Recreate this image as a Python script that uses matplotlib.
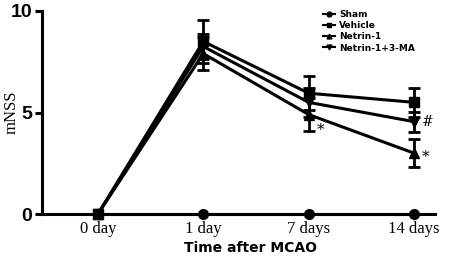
import matplotlib
matplotlib.use('Agg')
import matplotlib.pyplot as plt
from matplotlib.lines import Line2D

days = ['0 day', '1 day', '7 days', '14 days']
sham = [0, 0, 0, 0]
vehicle = [0, 8.5, 5.95, 5.5]
vehicle_err = [0, 1.05, 0.85, 0.7]
netrin = [0, 7.9, 4.9, 3.0]
netrin_err = [0, 0.8, 0.8, 0.7]
netrin_ma = [0, 8.25, 5.5, 4.55]
netrin_ma_err = [0, 0.6, 0.7, 0.5]

x = list(range(len(days)))

fig = plt.figure(figsize=(4.54, 2.66), dpi=100)
ax = fig.add_axes([0.0925, 0.195, 0.866, 0.764])

common = dict(color='black', lw=2.2, capsize=4, capthick=2, elinewidth=2, clip_on=False)
ax.errorbar(x, vehicle, yerr=vehicle_err, marker='s', ms=7, **common)
ax.errorbar(x, netrin, yerr=netrin_err, marker='^', ms=7, **common)
ax.errorbar(x, netrin_ma, yerr=netrin_ma_err, marker='v', ms=7, **common)
ax.plot(x, sham, color='black', lw=2.2, marker='o', ms=7, clip_on=False, zorder=5)

# significance marks
ax.text(2.08, 3.95, '*', fontsize=11, family='DejaVu Serif')
ax.text(3.07, 2.6, '*', fontsize=11, family='DejaVu Serif')
ax.text(3.07, 4.35, '#', fontsize=10, family='DejaVu Serif')

ax.set_xlim(-0.53, 3.2)
ax.set_ylim(0, 10)
ax.set_yticks([0, 5, 10])
ax.set_xticks(x)
ax.set_xticklabels(days, family='Liberation Serif', fontsize=12)
ax.tick_params(axis='x', length=0, pad=5)
ax.tick_params(axis='y', length=5, width=2.2, labelsize=14, pad=2)
for t in ax.get_yticklabels():
    t.set_fontweight('bold')
    t.set_family('Liberation Sans')
ax.set_ylabel('mNSS', family='Liberation Serif', fontsize=12)
ax.yaxis.set_label_coords(-0.056, 0.5)
ax.set_xlabel('Time after MCAO', fontsize=10, fontweight='semibold', labelpad=2)
ax.xaxis.set_label_coords(0.53, -0.13)
for s in ['top', 'right']:
    ax.spines[s].set_visible(False)
for s in ['left', 'bottom']:
    ax.spines[s].set_linewidth(2.2)

labels = ['Sham', 'Vehicle', 'Netrin-1', 'Netrin-1+3-MA']
markers = ['o', 's', '^', 'v']
handles = [Line2D([], [], color='black', lw=1.5, marker=m, ms=3.5) for m in markers]
ax.legend(handles, labels, loc='upper right', bbox_to_anchor=(0.97, 1.045), frameon=False,
          handlelength=1.3, handletextpad=0.5, labelspacing=0.25,
          prop={'weight': 'bold', 'size': 6.5})

fig.savefig('out.png', dpi=100)
